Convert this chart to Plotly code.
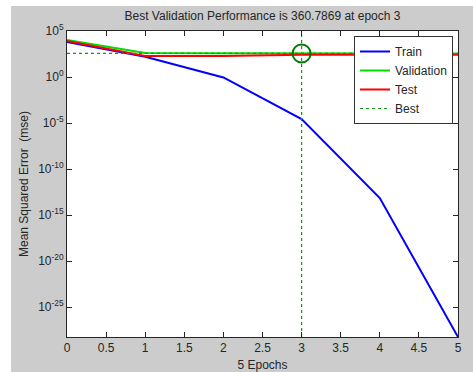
import numpy as np
import plotly.graph_objects as go

epochs = [0, 1, 2, 3, 4, 5]
train = [6300, 160, 0.9, 2.7e-5, 7e-14, 5.5e-29]
validation = [10500, 400, 370, 360.7869, 362, 365]
test = [8100, 190, 190, 255, 255, 255]
best_epoch = 3
best_perf = 360.7869

ytick_exps = [5, 0, -5, -10, -15, -20, -25]
ytick_vals = [10.0 ** e for e in ytick_exps]
ytick_text = ["10<sup>%d</sup>" % e for e in ytick_exps]
xtick_vals = [0, 0.5, 1, 1.5, 2, 2.5, 3, 3.5, 4, 4.5, 5]
xtick_text = ["0", "0.5", "1", "1.5", "2", "2.5", "3", "3.5", "4", "4.5", "5"]

ymin = min(train)
ymax = 1e5

fig = go.Figure()
fig.add_trace(go.Scatter(x=epochs, y=train, mode="lines", name="Train",
                         line=dict(color="#0000ff", width=2)))
fig.add_trace(go.Scatter(x=epochs, y=validation, mode="lines", name="Validation",
                         line=dict(color="#00dd00", width=2)))
fig.add_trace(go.Scatter(x=epochs, y=test, mode="lines", name="Test",
                         line=dict(color="#ff0000", width=2)))
fig.add_trace(go.Scatter(x=[0, 5, None, best_epoch, best_epoch],
                         y=[best_perf, best_perf, None, ymin, ymax],
                         mode="lines", name="Best",
                         line=dict(color="#119911", width=1.2, dash="3px,3px")))
fig.add_trace(go.Scatter(x=[best_epoch], y=[best_perf], mode="markers", showlegend=False,
                         marker=dict(symbol="circle-open", size=18,
                                     line=dict(color="#007a00", width=2), color="#007a00")))

W, H = 473, 372
L, R, T, B = 67, 458, 31, 337
pw, ph = R - L, B - T

fig.update_layout(
    width=W, height=H,
    margin=dict(l=L, r=W - R, t=T, b=H - B, pad=0, autoexpand=False),
    paper_bgcolor="#cccccc",
    plot_bgcolor="white",
    font=dict(family="Liberation Sans, Arial, sans-serif", size=12, color="#262626"),
    title=dict(text="Best Validation Performance is 360.7869 at epoch 3",
               x=0.5, xref="paper", xanchor="center", y=1 - 16 / H, yanchor="middle",
               font=dict(size=12, color="#262626")),
    showlegend=True,
    legend=dict(x=(453 - L) / pw, xanchor="right", y=(B - 36) / ph, yanchor="top",
                bgcolor="white", bordercolor="#333333", borderwidth=1,
                font=dict(size=12, color="#262626"), tracegroupgap=0,
                itemwidth=30),
    shapes=[
        dict(type="rect", xref="paper", yref="paper", x0=-L / pw, x1=(11 - L) / pw,
             y0=-(H - B) / ph, y1=(B) / ph, fillcolor="white", line=dict(width=0), layer="above"),
        dict(type="rect", xref="paper", yref="paper", x0=-L / pw, x1=(W - L) / pw,
             y0=(B - 6) / ph, y1=B / ph, fillcolor="white", line=dict(width=0), layer="above"),
    ],
)
fig.update_xaxes(range=[0, 5], tickvals=xtick_vals, ticktext=xtick_text,
                 ticks="inside", ticklen=5, tickcolor="#262626", mirror="ticks",
                 showline=True, linecolor="#262626", linewidth=1, showgrid=False, zeroline=False,
                 automargin=False,
                 title=dict(text="5 Epochs", font=dict(size=12)),
                 tickfont=dict(size=12))
fig.update_yaxes(type="log", range=[np.log10(ymin), np.log10(ymax)],
                 tickvals=ytick_vals, ticktext=ytick_text,
                 ticks="inside", ticklen=5, tickcolor="#262626", mirror="ticks",
                 showline=True, linecolor="#262626", linewidth=1, showgrid=False, zeroline=False,
                 automargin=False,
                 title=dict(text="Mean Squared Error  (mse)", font=dict(size=12), standoff=6),
                 tickfont=dict(size=12))

fig.write_html("out.html", config={"displayModeBar": False},
               post_script="document.body.style.margin='0px';document.body.style.overflow='hidden';")
